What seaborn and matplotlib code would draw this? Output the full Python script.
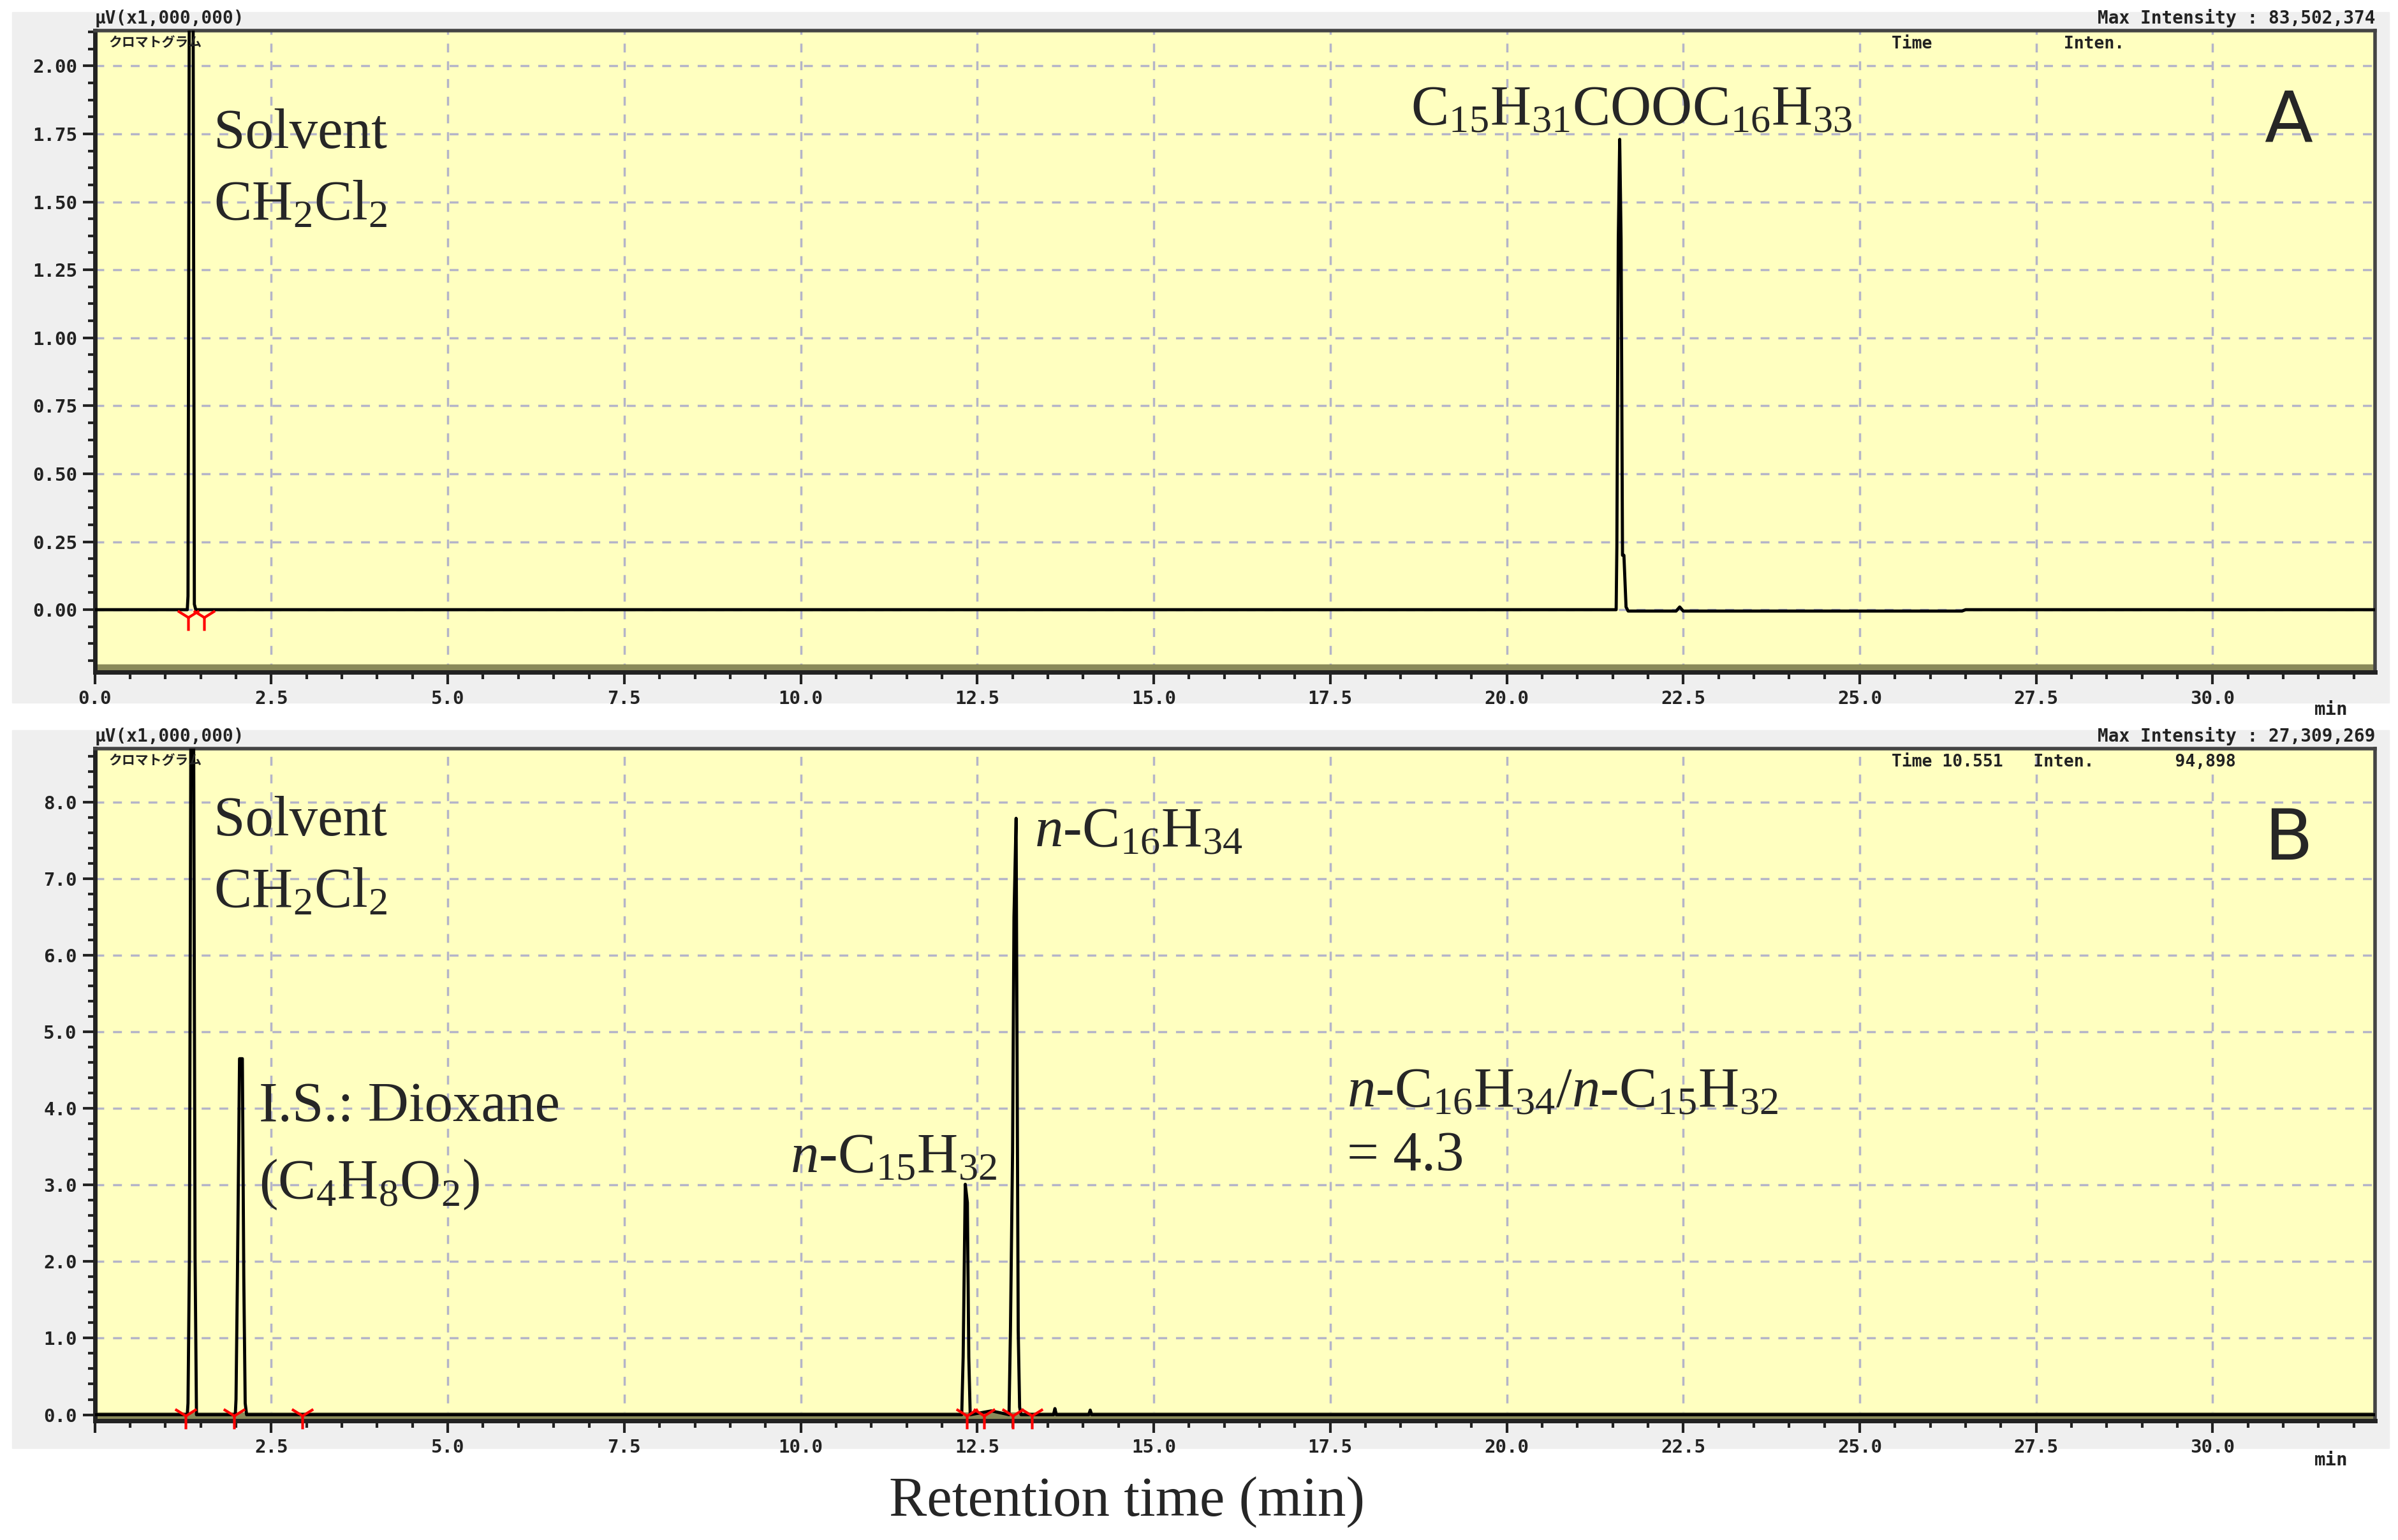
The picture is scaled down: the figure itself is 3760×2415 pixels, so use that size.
import numpy as np
import pandas as pd
import matplotlib
matplotlib.use('Agg')
import matplotlib.pyplot as plt
import matplotlib.patches as mpatches
from matplotlib.ticker import MultipleLocator
import seaborn as sns

# trace vertices (time in min, intensity in uV x 1,000,000)
time_a = [0.0, 1.31, 1.32, 1.34, 1.39, 1.41, 1.43, 21.55, 21.56, 21.58, 21.60, 21.62,
          21.64, 21.66, 21.69, 21.72, 22.40, 22.45, 22.50, 26.45, 26.50, 32.3]
inten_a = [0.0, 0.0, 0.05, 2.5, 2.5, 0.02, 0.0, 0.0, 0.23, 1.36, 1.73, 1.36,
           0.20, 0.20, 0.01, -0.005, -0.005, 0.01, -0.005, -0.005, 0.0, 0.0]
time_b = [0.0, 1.31, 1.32, 1.34, 1.36, 1.40, 1.42, 1.44, 1.99, 2.00, 2.02, 2.05,
          2.09, 2.11, 2.13, 2.15, 12.28, 12.30, 12.33, 12.36, 12.38, 12.40, 12.70,
          12.80, 12.95, 12.97, 13.00, 13.02, 13.05, 13.08, 13.10, 13.12, 13.58,
          13.60, 13.62, 14.08, 14.10, 14.12, 32.3]
inten_b = [0.0, 0.0, 0.15, 2.05, 8.9, 8.9, 2.05, 0.0, 0.0, 0.2, 1.8, 4.65,
           4.65, 1.8, 0.15, 0.0, 0.0, 0.75, 3.01, 2.77, 0.75, 0.0, 0.05,
           0.03, 0.0, 1.1, 3.43, 6.5, 7.79, 1.1, 0.1, 0.0, 0.0,
           0.08, 0.0, 0.0, 0.06, 0.0, 0.0]
marks_a = [1.32, 1.55]
marks_b = [1.29, 1.97, 2.94, 12.35, 12.60, 13.00, 13.27]

x_ticks = [0.0, 2.5, 5.0, 7.5, 10.0, 12.5, 15.0, 17.5, 20.0, 22.5, 25.0, 27.5, 30.0]
x_labels_a = [f'{x:.1f}' for x in x_ticks]
x_labels_b = [''] + [f'{x:.1f}' for x in x_ticks[1:]]
y_ticks_a = [0.0, 0.25, 0.5, 0.75, 1.0, 1.25, 1.5, 1.75, 2.0]
y_ticks_b = [0.0, 1.0, 2.0, 3.0, 4.0, 5.0, 6.0, 7.0, 8.0]

sns.set_theme(style='white')
plt.rcParams['font.family'] = ['Liberation Serif', 'DejaVu Sans']
plt.rcParams['mathtext.fontset'] = 'custom'
plt.rcParams['mathtext.rm'] = 'Liberation Serif'
plt.rcParams['mathtext.it'] = 'Liberation Serif:italic'

fig = plt.figure(figsize=(37.6, 24.15), dpi=100)
W, H = 1568, 1008  # layout read in reference pixel units

# grey instrument panels
for y0, y1 in [(8, 460), (478, 948)]:
    fig.add_artist(mpatches.Rectangle((8 / W, 1 - y1 / H), 1554 / W, (y1 - y0) / H,
                                      transform=fig.transFigure, color='#efefef', zorder=-10))

mono = dict(family='DejaVu Sans Mono', fontweight='bold', color='#222222')
jp = dict(family=['Noto Sans CJK JP', 'DejaVu Sans'], fontweight='bold', color='#222222')


def panel(top, bottom, t, v, marks, xlabels, yticks, ylim, yfmt, minor_y, max_int, right_hdr):
    ax = fig.add_axes([62 / W, 1 - bottom / H, 1491 / W, (bottom - top) / H])
    ax.set_zorder(5)
    ax.set_facecolor('#ffffc0')
    # olive baseline band like the instrument printout
    ax.axhspan(ylim[0], ylim[0] + (ylim[1] - ylim[0]) * 0.012, color='#8a8a5a', zorder=1)
    df = pd.DataFrame({'t': t, 'v': v})
    sns.lineplot(data=df, x='t', y='v', ax=ax, color='black', linewidth=3.5,
                 sort=False, estimator=None, zorder=3)
    ax.scatter(marks, [ylim[0] * 0.12] * len(marks), marker='1', s=900, color='red',
               linewidths=3, zorder=5, clip_on=False)
    ax.set_xlim(0, 32.3)
    ax.set_ylim(*ylim)
    ax.set_xticks(x_ticks)
    ax.set_xticklabels(xlabels, **mono, fontsize=21)
    ax.set_yticks(yticks)
    ax.set_yticklabels([yfmt.format(y) for y in yticks], **mono, fontsize=21)
    ax.xaxis.set_minor_locator(MultipleLocator(0.5))
    ax.yaxis.set_minor_locator(MultipleLocator(minor_y))
    ax.tick_params(which='major', length=14, width=3, color='#222222', direction='out',
                   bottom=True, left=True, pad=6)
    ax.tick_params(which='minor', length=8, width=3, color='#222222', direction='out',
                   bottom=True, left=True)
    ax.grid(True, which='major', linestyle=(0, (4, 4)), color='#b4b4c8', linewidth=2.5)
    for s in ['left', 'bottom']:
        ax.spines[s].set_linewidth(5)
        ax.spines[s].set_color('#222222')
    for s in ['top', 'right']:
        ax.spines[s].set_linewidth(4)
        ax.spines[s].set_color('#444444')
    ax.set_xlabel('')
    ax.set_ylabel('')
    ax.text(0.988, -0.045, 'min', transform=ax.transAxes, ha='right', va='top', **mono, fontsize=21)
    ax.text(0.0, 1.005, 'μV(x1,000,000)', transform=ax.transAxes, ha='left', va='bottom',
            **mono, fontsize=20)
    ax.text(1.0, 1.005, f'Max Intensity : {max_int}', transform=ax.transAxes, ha='right',
            va='bottom', **mono, fontsize=20)
    ax.text(0.006, 0.992, 'クロマトグラム', transform=ax.transAxes, ha='left', va='top',
            **jp, fontsize=15)
    ax.text(0.788, 0.992, right_hdr, transform=ax.transAxes, ha='left', va='top',
            **mono, fontsize=19)
    return ax


ax_a = panel(20, 440, time_a, inten_a, marks_a, x_labels_a, y_ticks_a, (-0.23, 2.13), '{:.2f}',
             0.0625, '83,502,374', 'Time             Inten.')
ax_b = panel(490, 930, time_b, inten_b, marks_b, x_labels_b, y_ticks_b, (-0.08, 8.7), '{:.1f}',
             0.2, '27,309,269', 'Time 10.551   Inten.        94,898')

big = 64
ax_a.text(0.052, 0.838, 'Solvent', transform=ax_a.transAxes, va='center', fontsize=big)
ax_a.text(0.052, 0.726, r'CH$_2$Cl$_2$', transform=ax_a.transAxes, va='center', fontsize=big)
ax_a.text(0.577, 0.876, r'C$_{15}$H$_{31}$COOC$_{16}$H$_{33}$', transform=ax_a.transAxes,
          va='center', fontsize=big)
ax_a.text(0.962, 0.857, 'A', transform=ax_a.transAxes, ha='center', va='center',
          family='DejaVu Sans', fontsize=80)

ax_b.text(0.052, 0.891, 'Solvent', transform=ax_b.transAxes, va='center', fontsize=big)
ax_b.text(0.052, 0.784, r'CH$_2$Cl$_2$', transform=ax_b.transAxes, va='center', fontsize=big)
ax_b.text(0.072, 0.466, 'I.S.: Dioxane', transform=ax_b.transAxes, va='center', fontsize=big)
ax_b.text(0.072, 0.352, r'(C$_4$H$_8$O$_2$)', transform=ax_b.transAxes, va='center', fontsize=big)
ax_b.text(0.305, 0.391, r'$\mathit{n}$-C$_{15}$H$_{32}$', transform=ax_b.transAxes,
          va='center', fontsize=big)
ax_b.text(0.412, 0.875, r'$\mathit{n}$-C$_{16}$H$_{34}$', transform=ax_b.transAxes,
          va='center', fontsize=big)
ax_b.text(0.549, 0.489, r'$\mathit{n}$-C$_{16}$H$_{34}$/$\mathit{n}$-C$_{15}$H$_{32}$',
          transform=ax_b.transAxes, va='center', fontsize=big)
ax_b.text(0.549, 0.393, '= 4.3', transform=ax_b.transAxes, va='center', fontsize=big)
ax_b.text(0.962, 0.864, 'B', transform=ax_b.transAxes, ha='center', va='center',
          family='DejaVu Sans', fontsize=80)

fig.text(737 / W, 1 - 983 / H, 'Retention time (min)', ha='center', va='center', fontsize=64)

plt.savefig('out.png', dpi=100)
